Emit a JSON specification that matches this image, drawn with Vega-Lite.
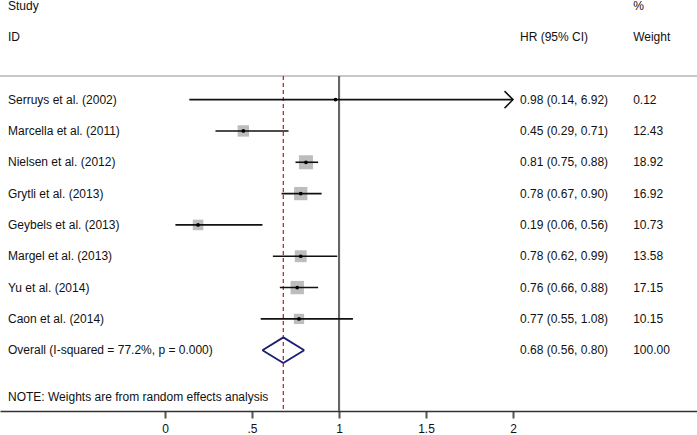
{
  "$schema": "https://vega.github.io/schema/vega-lite/v6.json",
  "width": 697,
  "height": 411,
  "autosize": "none",
  "padding": {"left": 0, "top": 0, "right": 0, "bottom": 24},
  "background": "white",
  "config": {"view": {"stroke": null}, "font": "Liberation Sans", "text": {"font": "Liberation Sans", "fontSize": 12, "color": "#111111"}},
  "datasets": {
    "studies": [
      {"study": "Serruys et al. (2002)", "row": 0, "hr": 0.98, "lo": 0.14, "hi": 6.92, "ci": "0.98 (0.14, 6.92)", "weight": 0.12, "wtext": "0.12"},
      {"study": "Marcella et al. (2011)", "row": 1, "hr": 0.45, "lo": 0.29, "hi": 0.71, "ci": "0.45 (0.29, 0.71)", "weight": 12.43, "wtext": "12.43"},
      {"study": "Nielsen et al. (2012)", "row": 2, "hr": 0.81, "lo": 0.75, "hi": 0.88, "ci": "0.81 (0.75, 0.88)", "weight": 18.92, "wtext": "18.92"},
      {"study": "Grytli et al. (2013)", "row": 3, "hr": 0.78, "lo": 0.67, "hi": 0.90, "ci": "0.78 (0.67, 0.90)", "weight": 16.92, "wtext": "16.92"},
      {"study": "Geybels et al. (2013)", "row": 4, "hr": 0.19, "lo": 0.06, "hi": 0.56, "ci": "0.19 (0.06, 0.56)", "weight": 10.73, "wtext": "10.73"},
      {"study": "Margel et al. (2013)", "row": 5, "hr": 0.78, "lo": 0.62, "hi": 0.99, "ci": "0.78 (0.62, 0.99)", "weight": 13.58, "wtext": "13.58"},
      {"study": "Yu et al. (2014)", "row": 6, "hr": 0.76, "lo": 0.66, "hi": 0.88, "ci": "0.76 (0.66, 0.88)", "weight": 17.15, "wtext": "17.15"},
      {"study": "Caon et al. (2014)", "row": 7, "hr": 0.77, "lo": 0.55, "hi": 1.08, "ci": "0.77 (0.55, 1.08)", "weight": 10.15, "wtext": "10.15"}
    ],
    "overall": [
      {"study": "Overall  (I-squared = 77.2%, p = 0.000)", "row": 8, "hr": 0.68, "lo": 0.56, "hi": 0.80, "ci": "0.68 (0.56, 0.80)", "wtext": "100.00"}
    ],
    "headers": [
      {"label": "Study", "col": "left", "row": -3},
      {"label": "ID", "col": "left", "row": -2},
      {"label": "HR (95% CI)", "col": "mid", "row": -2},
      {"label": "%", "col": "right", "row": -3},
      {"label": "Weight", "col": "right", "row": -2},
      {"label": "NOTE: Weights are from random effects analysis", "col": "left", "row": 9.5}
    ]
  },
  "data": {"name": "studies"},
  "layer": [
    {
      "mark": {"type": "rule", "color": "#c8c8c8", "strokeWidth": 1.5},
      "encoding": {
        "x": {"datum": -0.948, "type": "quantitative", "scale": {"domain": [-0.948, 3.057], "nice": false, "zero": false}, "axis": {"values": [0, 0.5, 1, 1.5, 2], "labelExpr": "datum.value == 0.5 ? '.5' : format(datum.value, '~g')", "title": null, "grid": false, "domainColor": "#333333", "domainWidth": 1.5, "tickColor": "#555555", "tickWidth": 2, "tickSize": 7, "labelFont": "Liberation Sans", "labelFontSize": 12, "labelColor": "#111111", "labelPadding": 5, "orient": "bottom"}},
        "x2": {"datum": 3.057},
        "y": {"datum": -0.75, "type": "quantitative", "scale": {"domain": [-3.18, 9.94], "nice": false, "zero": false, "reverse": true}, "axis": null}
      }
    },
    {
      "mark": {"type": "rule", "color": "#666666", "strokeWidth": 2},
      "encoding": {
        "x": {"datum": 1, "type": "quantitative"},
        "y": {"datum": -0.75, "type": "quantitative"},
        "y2": {"datum": 9.94}
      }
    },
    {
      "data": {"name": "overall"},
      "mark": {"type": "rule", "color": "#b8312f", "strokeWidth": 1.3, "strokeDash": [4, 3]},
      "encoding": {
        "x": {"field": "hr", "type": "quantitative"},
        "y": {"datum": -0.75, "type": "quantitative"},
        "y2": {"datum": 9.94}
      }
    },
    {
      "mark": {"type": "point", "shape": "square", "filled": true, "color": "#bdbdbd", "opacity": 1, "strokeWidth": 0},
      "encoding": {
        "x": {"field": "hr", "type": "quantitative"},
        "y": {"field": "row", "type": "quantitative"},
        "size": {"field": "weight", "type": "quantitative", "scale": {"domain": [0, 20], "range": [0, 208], "zero": true}, "legend": null}
      }
    },
    {
      "transform": [{"filter": "datum.hi <= 2"}],
      "mark": {"type": "rule", "color": "#111111", "strokeWidth": 1.6},
      "encoding": {
        "x": {"field": "lo", "type": "quantitative"},
        "x2": {"field": "hi"},
        "y": {"field": "row", "type": "quantitative"}
      }
    },
    {
      "transform": [{"filter": "datum.hi > 2"}],
      "mark": {"type": "rule", "color": "#111111", "strokeWidth": 1.6},
      "encoding": {
        "x": {"field": "lo", "type": "quantitative"},
        "x2": {"datum": 2},
        "y": {"field": "row", "type": "quantitative"}
      }
    },
    {
      "transform": [{"filter": "datum.hi > 2"}],
      "mark": {"type": "point", "shape": "M -1 -1 L 0 0 L -1 1", "filled": false, "color": "#111111", "strokeWidth": 1.5, "opacity": 1, "size": 290},
      "encoding": {
        "x": {"datum": 2, "type": "quantitative"},
        "y": {"field": "row", "type": "quantitative"}
      }
    },
    {
      "mark": {"type": "point", "shape": "circle", "filled": true, "color": "#000000", "opacity": 1, "size": 14},
      "encoding": {
        "x": {"field": "hr", "type": "quantitative"},
        "y": {"field": "row", "type": "quantitative"}
      }
    },
    {
      "data": {"name": "overall"},
      "mark": {"type": "rule", "color": "#1b1f74", "strokeWidth": 1.8},
      "encoding": {"x": {"field": "lo", "type": "quantitative"}, "x2": {"field": "hr"}, "y": {"datum": 8, "type": "quantitative"}, "y2": {"datum": 7.59}}
    },
    {
      "data": {"name": "overall"},
      "mark": {"type": "rule", "color": "#1b1f74", "strokeWidth": 1.8},
      "encoding": {"x": {"field": "hr", "type": "quantitative"}, "x2": {"field": "hi"}, "y": {"datum": 7.59, "type": "quantitative"}, "y2": {"datum": 8}}
    },
    {
      "data": {"name": "overall"},
      "mark": {"type": "rule", "color": "#1b1f74", "strokeWidth": 1.8},
      "encoding": {"x": {"field": "lo", "type": "quantitative"}, "x2": {"field": "hr"}, "y": {"datum": 8, "type": "quantitative"}, "y2": {"datum": 8.41}}
    },
    {
      "data": {"name": "overall"},
      "mark": {"type": "rule", "color": "#1b1f74", "strokeWidth": 1.8},
      "encoding": {"x": {"field": "hr", "type": "quantitative"}, "x2": {"field": "hi"}, "y": {"datum": 8.41, "type": "quantitative"}, "y2": {"datum": 8}}
    },
    {
      "mark": {"type": "text", "align": "left", "baseline": "middle"},
      "encoding": {"x": {"datum": -0.902, "type": "quantitative"}, "y": {"field": "row", "type": "quantitative"}, "text": {"field": "study"}}
    },
    {
      "mark": {"type": "text", "align": "left", "baseline": "middle"},
      "encoding": {"x": {"datum": 2.04, "type": "quantitative"}, "y": {"field": "row", "type": "quantitative"}, "text": {"field": "ci"}}
    },
    {
      "mark": {"type": "text", "align": "left", "baseline": "middle"},
      "encoding": {"x": {"datum": 2.69, "type": "quantitative"}, "y": {"field": "row", "type": "quantitative"}, "text": {"field": "wtext"}}
    },
    {
      "data": {"name": "overall"},
      "mark": {"type": "text", "align": "left", "baseline": "middle"},
      "encoding": {"x": {"datum": -0.902, "type": "quantitative"}, "y": {"field": "row", "type": "quantitative"}, "text": {"field": "study"}}
    },
    {
      "data": {"name": "overall"},
      "mark": {"type": "text", "align": "left", "baseline": "middle"},
      "encoding": {"x": {"datum": 2.04, "type": "quantitative"}, "y": {"field": "row", "type": "quantitative"}, "text": {"field": "ci"}}
    },
    {
      "data": {"name": "overall"},
      "mark": {"type": "text", "align": "left", "baseline": "middle"},
      "encoding": {"x": {"datum": 2.69, "type": "quantitative"}, "y": {"field": "row", "type": "quantitative"}, "text": {"field": "wtext"}}
    },
    {
      "data": {"name": "headers"},
      "transform": [{"filter": "datum.col == 'left'"}],
      "mark": {"type": "text", "align": "left", "baseline": "middle"},
      "encoding": {"x": {"datum": -0.902, "type": "quantitative"}, "y": {"field": "row", "type": "quantitative"}, "text": {"field": "label"}}
    },
    {
      "data": {"name": "headers"},
      "transform": [{"filter": "datum.col == 'mid'"}],
      "mark": {"type": "text", "align": "left", "baseline": "middle"},
      "encoding": {"x": {"datum": 2.04, "type": "quantitative"}, "y": {"field": "row", "type": "quantitative"}, "text": {"field": "label"}}
    },
    {
      "data": {"name": "headers"},
      "transform": [{"filter": "datum.col == 'right'"}],
      "mark": {"type": "text", "align": "left", "baseline": "middle"},
      "encoding": {"x": {"datum": 2.69, "type": "quantitative"}, "y": {"field": "row", "type": "quantitative"}, "text": {"field": "label"}}
    }
  ]
}
